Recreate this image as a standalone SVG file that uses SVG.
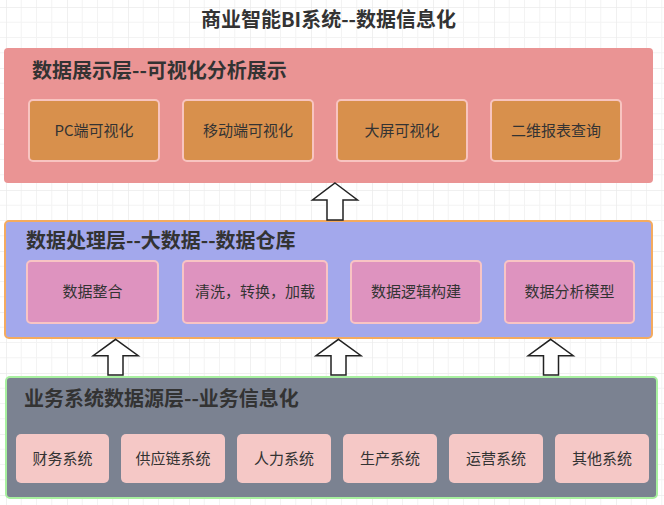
<svg xmlns="http://www.w3.org/2000/svg" width="664" height="505" viewBox="0 0 664 505">
<defs>
<pattern id="grid" x="6" y="7" width="61" height="61" patternUnits="userSpaceOnUse">
<path d="M15.25 0V61M30.5 0V61M45.75 0V61M0 15.25H61M0 30.5H61M0 45.75H61" stroke="#f3f3f3" stroke-width="1" fill="none"/>
<path d="M0 0V61M0 0H61" stroke="#ebebeb" stroke-width="1.5" fill="none"/>
</pattern>
</defs>
<style>
text{font-family:"Noto Sans CJK SC","Noto Sans",sans-serif;fill:#333}
.t{font-size:20px;font-weight:bold}
.n{font-size:15px;text-anchor:middle}
.a{fill:#fff;stroke:#222;stroke-width:1.5;stroke-linejoin:miter}
.l1{fill:#ea9494}
.n1{fill:#d8904c;stroke:#f8c4c0;stroke-width:2}
.l2{fill:#a3a8ec;stroke:#f4ab5f;stroke-width:2}
.n2{fill:#de93bf;stroke:#f8c4c4;stroke-width:2}
.l3{fill:#7b8291;stroke:#a8f0a0;stroke-width:2}
.n3{fill:#f5c8c6}
</style>
<rect width="664" height="505" fill="#fff"/>
<rect width="664" height="505" fill="url(#grid)"/>
<text class="t" x="328.5" y="27" text-anchor="middle">商业智能BI系统--数据信息化</text>

<g id="layer-display">
<rect class="l1" x="4" y="48" width="649" height="135" rx="4"/>
<text class="t" x="32" y="78">数据展示层--可视化分析展示</text>
</g>
<g id="node-pc"><rect class="n1" x="29" y="100" width="130" height="61" rx="4"/><text class="n" x="94" y="136">PC端可视化</text></g>
<g id="node-mobile"><rect class="n1" x="183" y="100" width="130" height="61" rx="4"/><text class="n" x="248" y="136">移动端可视化</text></g>
<g id="node-bigscreen"><rect class="n1" x="337" y="100" width="130" height="61" rx="4"/><text class="n" x="402" y="136">大屏可视化</text></g>
<g id="node-qr"><rect class="n1" x="491" y="100" width="130" height="61" rx="4"/><text class="n" x="556" y="136">二维报表查询</text></g>

<g id="layer-process">
<rect class="l2" x="5" y="221" width="647" height="117" rx="4"/>
<text class="t" x="26" y="248">数据处理层--大数据--数据仓库</text>
</g>
<g id="node-integrate"><rect class="n2" x="27" y="261" width="131" height="62" rx="4"/><text class="n" x="92.5" y="297">数据整合</text></g>
<g id="node-etl"><rect class="n2" x="183" y="261" width="144" height="62" rx="4"/><text class="n" x="255" y="297">清洗，转换，加载</text></g>
<g id="node-logic"><rect class="n2" x="351" y="261" width="130" height="62" rx="4"/><text class="n" x="416" y="297">数据逻辑构建</text></g>
<g id="node-model"><rect class="n2" x="505" y="261" width="129" height="62" rx="4"/><text class="n" x="569.5" y="297">数据分析模型</text></g>

<g id="layer-source">
<rect class="l3" x="6" y="377" width="651" height="121" rx="4"/>
<text class="t" x="24" y="406">业务系统数据源层--业务信息化</text>
</g>
<g id="node-finance"><rect class="n3" x="16" y="434" width="93" height="49" rx="5"/><text class="n" x="62.5" y="464">财务系统</text></g>
<g id="node-supply"><rect class="n3" x="121" y="434" width="104" height="49" rx="5"/><text class="n" x="173" y="464">供应链系统</text></g>
<g id="node-hr"><rect class="n3" x="237" y="434" width="94" height="49" rx="5"/><text class="n" x="284" y="464">人力系统</text></g>
<g id="node-production"><rect class="n3" x="343" y="434" width="94" height="49" rx="5"/><text class="n" x="390" y="464">生产系统</text></g>
<g id="node-operation"><rect class="n3" x="449" y="434" width="94" height="49" rx="5"/><text class="n" x="496" y="464">运营系统</text></g>
<g id="node-other"><rect class="n3" x="555" y="434" width="94" height="49" rx="5"/><text class="n" x="602" y="464">其他系统</text></g>

<g id="connectors">
<path class="a" d="M335 183L357.5 200H343V220H327V200H312.5Z"/>
<path class="a" d="M115.7 339.3L138.2 355.7H123V375H108V355.7H93.2Z"/>
<path class="a" d="M338.5 339.3L361 355.7H346V375H331V355.7H316Z"/>
<path class="a" d="M550.7 339.3L573.2 355.7H558.5V375H543.5V355.7H528.2Z"/>
</g>
</svg>
